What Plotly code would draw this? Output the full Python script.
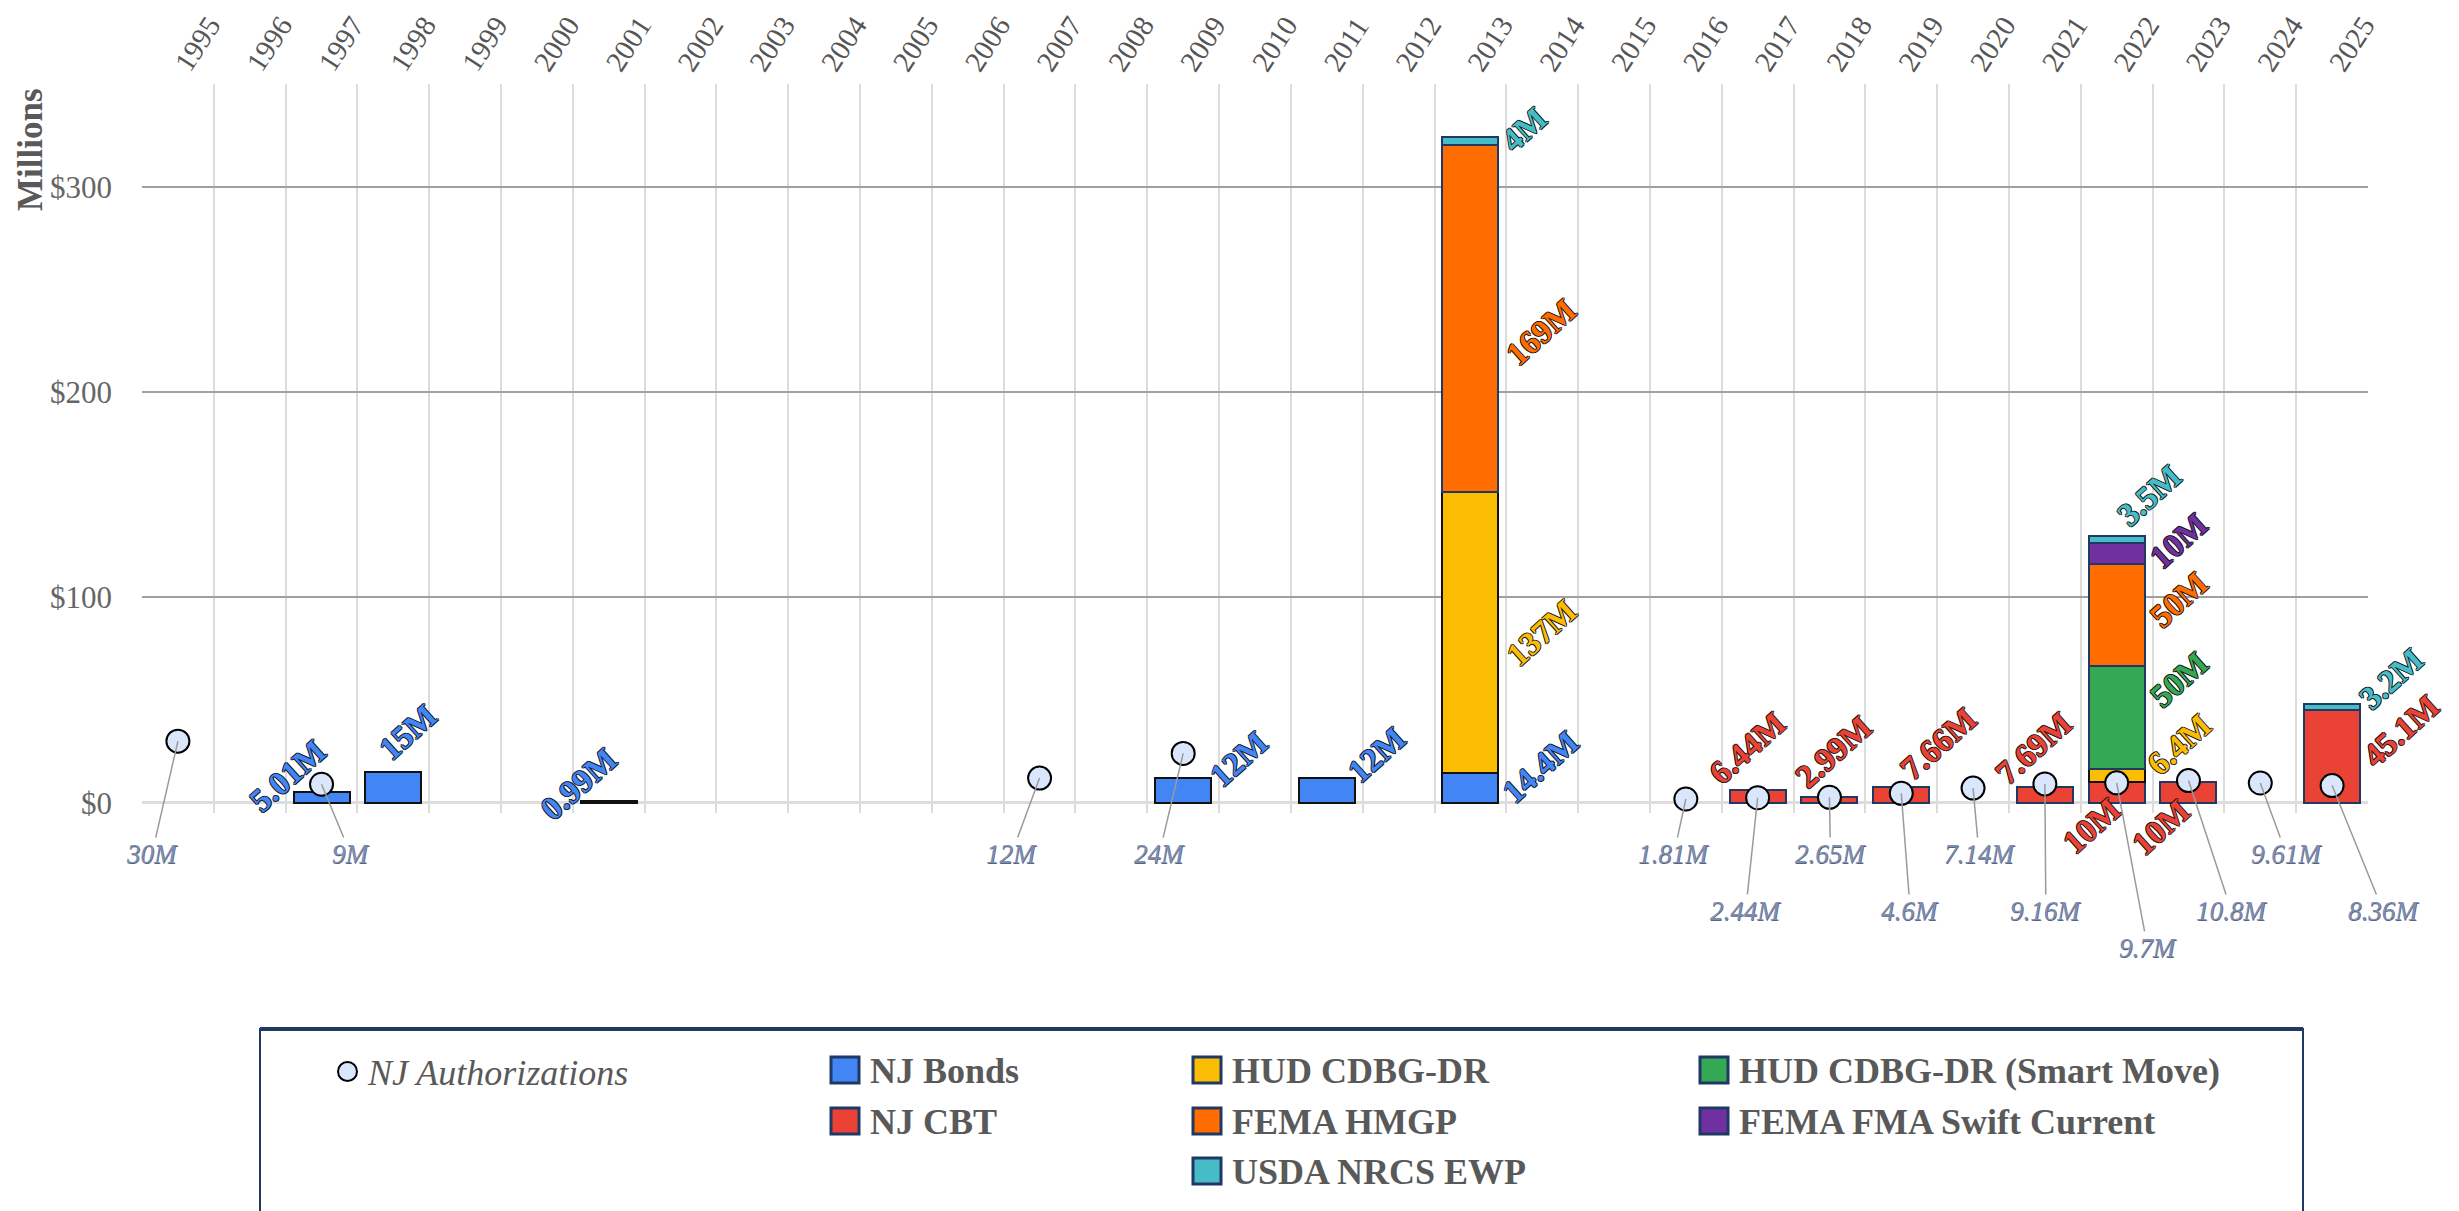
import plotly.graph_objects as go

# ---------------- data (values in $ millions) ----------------
years = ["1995", "1996", "1997", "1998", "1999", "2000", "2001", "2002", "2003", "2004",
         "2005", "2006", "2007", "2008", "2009", "2010", "2011", "2012", "2013", "2014",
         "2015", "2016", "2017", "2018", "2019", "2020", "2021", "2022", "2023", "2024", "2025"]

nj_bonds_years = ["1997", "1998", "2001", "2009", "2011", "2013"]
nj_bonds = [5.01, 15, 0.99, 12, 12, 14.4]

nj_cbt_years = ["2017", "2018", "2019", "2021", "2022", "2023", "2025"]
nj_cbt = [6.44, 2.99, 7.66, 7.69, 10, 10, 45.1]

hud_years = ["2013", "2022"]
hud = [137, 6.4]

smart_move_years = ["2022"]
smart_move = [50]

hmgp_years = ["2013", "2022"]
hmgp = [169, 50]

fma_years = ["2022"]
fma = [10]

ewp_years = ["2013", "2022", "2025"]
ewp = [4, 3.5, 3.2]

auth_years = ["1995", "1997", "2007", "2009", "2016", "2017", "2018", "2019", "2020",
              "2021", "2022", "2023", "2024", "2025"]
auth = [30, 9, 12, 24, 1.81, 2.44, 2.65, 4.6, 7.14, 9.16, 9.7, 10.8, 9.61, 8.36]

y_ticks = [0, 100, 200, 300]
y_ticklabels = ["$0", "$100", "$200", "$300"]

# ---------------- styles ----------------
SERIF = "Liberation Serif"
series = [
    # name, years, values, fill, outline
    ("NJ Bonds", nj_bonds_years, nj_bonds, "#4285f4", "#111111"),
    ("NJ CBT", nj_cbt_years, nj_cbt, "#ea4335", "#1f3864"),
    ("HUD CDBG-DR", hud_years, hud, "#fbbc04", "#111111"),
    ("HUD CDBG-DR (Smart Move)", smart_move_years, smart_move, "#34a853", "#1f3864"),
    ("FEMA HMGP", hmgp_years, hmgp, "#ff6d01", "#1f3864"),
    ("FEMA FMA Swift Current", fma_years, fma, "#7030a0", "#1f3864"),
    ("USDA NRCS EWP", ewp_years, ewp, "#46bdc6", "#1f3864"),
]

# pixel offsets of each bar value label from (category centre, segment middle)
bar_label_shift = {
    ("NJ Bonds", "1997"): (-34, 22), ("NJ Bonds", "1998"): (15, 55),
    ("NJ Bonds", "2001"): (-30, 18), ("NJ Bonds", "2009"): (56, 31),
    ("NJ Bonds", "2011"): (50, 35), ("NJ Bonds", "2013"): (70, 21),
    ("HUD CDBG-DR", "2013"): (71, 0), ("FEMA HMGP", "2013"): (71, -14),
    ("USDA NRCS EWP", "2013"): (54, 12),
    ("NJ CBT", "2017"): (-10, 48), ("NJ CBT", "2018"): (4, 48),
    ("NJ CBT", "2019"): (37, 51), ("NJ CBT", "2021"): (-11, 47),
    ("NJ CBT", "2022"): (-25, -34), ("HUD CDBG-DR", "2022"): (62, 31),
    ("HUD CDBG-DR (Smart Move)", "2022"): (62, 38), ("FEMA HMGP", "2022"): (62, 15),
    ("FEMA FMA Swift Current", "2022"): (62, 12), ("USDA NRCS EWP", "2022"): (32, 44),
    ("NJ CBT", "2023"): (-27, -35), ("NJ CBT", "2025"): (69, 25),
    ("USDA NRCS EWP", "2025"): (59, 28),
}

# point-label placement: horizontal pixel offset, and label level (data units below zero)
auth_label_dx = [-26, 29, -28, -24, -12, -12, 1, 9, 6, 1, 31, 43, 26, 51]
auth_label_level = [-25, -25, -25, -25, -25, -52.7, -25, -52.7, -25, -52.7, -70.7, -52.7, -25, -52.7]

# ---------------- layout geometry (page pixels) ----------------
PAGE_W, PAGE_H = 2459, 1211
OFF = 8                       # default body margin of the html page
W, H = PAGE_W - OFF, PAGE_H - OFF
L, R, T, B = 142, 2368, 84, 813   # plot area in page pixels


def xp(px):
    return (px - L) / (R - L)


def yp(py):
    return (B - py) / (B - T)


def cat_index(label):
    return years.index(label)


fig = go.Figure()

for name, yrs, vals, fill, outline in series:
    fig.add_trace(go.Bar(
        name=name, x=yrs, y=vals, marker=dict(color=fill, line=dict(color=outline, width=2)),
        showlegend=False,
    ))

fig.add_trace(go.Scatter(
    name="NJ Authorizations", x=auth_years, y=auth, mode="markers",
    marker=dict(size=23, color="#dae6fb", line=dict(color="#000000", width=2)),
    cliponaxis=False, showlegend=False,
))

annotations = []

# bar value labels (computed stacking)
cum = {y: 0.0 for y in years}
for name, yrs, vals, fill, outline in series:
    for yv, v in zip(yrs, vals):
        mid = cum[yv] + v / 2
        cum[yv] += v
        dx, dy = bar_label_shift.get((name, yv), (60, 20))
        annotations.append(dict(
            x=cat_index(yv), y=mid, xref="x", yref="y", text=f"{v:.3g}M", showarrow=False,
            textangle=-42, xanchor="center", yanchor="middle", xshift=dx, yshift=dy,
            font=dict(family=SERIF, size=33, color=fill, weight="bold",
                      shadow="1px 0px 0px #111, -1px 0px 0px #111, 0px 1px 0px #111, 0px -1px 0px #111"),
        ))

# authorization labels with leader lines
for yv, v, dx, lvl in zip(auth_years, auth, auth_label_dx, auth_label_level):
    annotations.append(dict(
        x=cat_index(yv), y=v, xref="x", yref="y", text=f"{v:.3g}M", showarrow=True,
        arrowhead=0, arrowwidth=1.5, arrowcolor="#9a9a9a",
        ax=dx, axref="pixel", ay=lvl, ayref="y",
        font=dict(family=SERIF, size=27, color="#7f8db0", style="italic",
                  shadow="0.6px 0.6px 0px #56647f"),
    ))

# y axis title
annotations.append(dict(
    x=xp(30), y=yp(150), xref="paper", yref="paper", text="Millions", showarrow=False,
    textangle=-90, xanchor="center", yanchor="middle",
    font=dict(family=SERIF, size=35, color="#595959", weight="bold"),
))

# ---------------- manual legend ----------------
shapes = []
NAVY = "#1f3864"
shapes.append(dict(type="rect", xref="paper", yref="paper", x0=xp(260), x1=xp(2303),
                   y0=yp(1240), y1=yp(1029), line=dict(color=NAVY, width=2),
                   fillcolor="rgba(0,0,0,0)", layer="above"))
shapes.append(dict(type="line", xref="paper", yref="paper", x0=xp(260), x1=xp(2303),
                   y0=yp(1029), y1=yp(1029), line=dict(color=NAVY, width=4)))

row_y = [1070, 1121, 1171]
legend_items = [
    # name, column swatch x, row
    ("NJ Bonds", 831, 0), ("NJ CBT", 831, 1),
    ("HUD CDBG-DR", 1193, 0), ("FEMA HMGP", 1193, 1), ("USDA NRCS EWP", 1193, 2),
    ("HUD CDBG-DR (Smart Move)", 1700, 0), ("FEMA FMA Swift Current", 1700, 1),
]
fills = {s[0]: s[3] for s in series}
for name, sx, r in legend_items:
    cy = row_y[r]
    shapes.append(dict(type="rect", xref="paper", yref="paper", x0=xp(sx), x1=xp(sx + 28),
                       y0=yp(cy + 13), y1=yp(cy - 13), fillcolor=fills[name],
                       line=dict(color=NAVY, width=3)))
    annotations.append(dict(x=xp(sx + 37), y=yp(cy + 1), xref="paper", yref="paper", text=name,
                            showarrow=False, xanchor="left", yanchor="middle",
                            font=dict(family=SERIF, size=36, color="#595959", weight="bold")))

shapes.append(dict(type="circle", xref="paper", yref="paper", x0=xp(338), x1=xp(357),
                   y0=yp(1081), y1=yp(1062), fillcolor="#dae6fb",
                   line=dict(color="#000000", width=2)))
annotations.append(dict(x=xp(365), y=yp(1073), xref="paper", yref="paper", text="NJ Authorizations",
                        showarrow=False, xanchor="left", yanchor="middle",
                        font=dict(family=SERIF, size=36, color="#595959", style="italic")))

fig.update_layout(
    width=W, height=H,
    margin=dict(l=L - OFF, r=PAGE_W - R, t=T - OFF, b=PAGE_H - B, pad=0, autoexpand=False),
    paper_bgcolor="white", plot_bgcolor="white",
    barmode="stack", bargap=0.22,
    showlegend=False,
    annotations=annotations, shapes=shapes,
    xaxis=dict(
        type="category", categoryorder="array", categoryarray=years, range=[-0.5, len(years) - 0.5],
        side="top", tickangle=-57, tickson="boundaries", ticks="", automargin=False,
        tickfont=dict(family=SERIF, size=29, color="#555555"), ticklabelstandoff=-3,
        showgrid=True, gridcolor="#dcdcdc", gridwidth=2, showline=False, zeroline=False,
    ),
    yaxis=dict(
        range=[-5, 350], tickvals=y_ticks, ticktext=y_ticklabels, automargin=False,
        tickfont=dict(family=SERIF, size=31, color="#666666"), ticklabelstandoff=29,
        showgrid=True, gridcolor="#a0a0a0", gridwidth=2,
        zeroline=True, zerolinecolor="#dddddd", zerolinewidth=3, showline=False,
    ),
)

fig.write_html("out.html")
